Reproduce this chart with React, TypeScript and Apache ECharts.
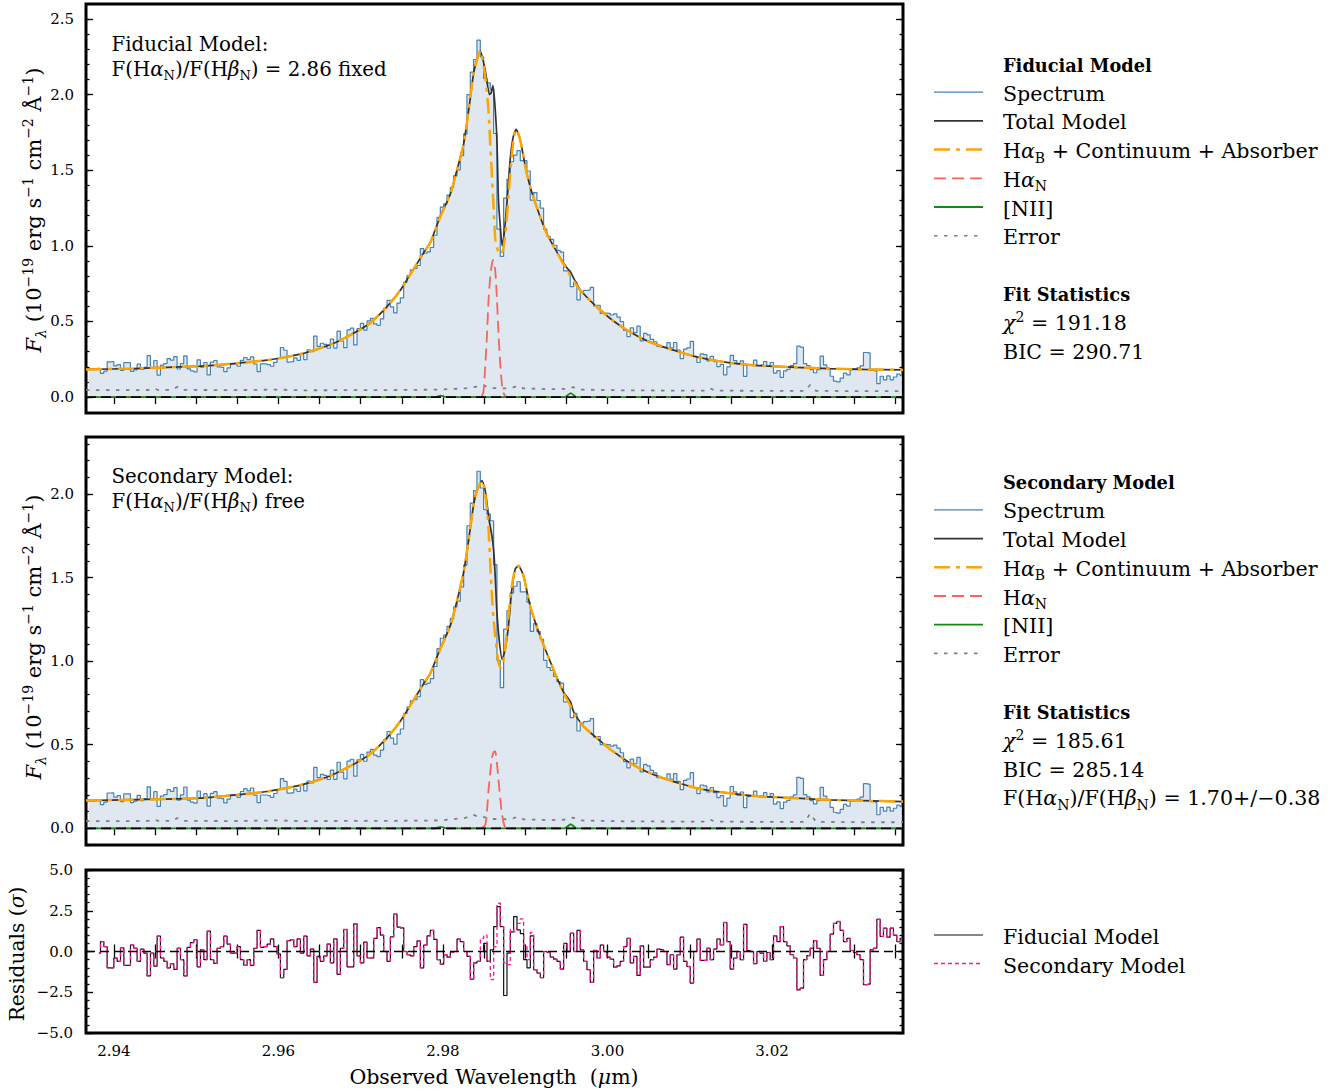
import React, { useEffect, useRef } from "react";
import * as echarts from "echarts";

const FONT = "DejaVu Serif";

// ---------- axes ----------
const X_MIN = 2.93661;
const X_MAX = 3.03592;
const X_TICKS = [2.94, 2.945, 2.95, 2.955, 2.96, 2.965, 2.97, 2.975, 2.98, 2.985, 2.99, 2.995, 3.0, 3.005, 3.01, 3.015, 3.02, 3.025, 3.03, 3.035];
const X_LABELS = [2.94, 2.96, 2.98, 3.0, 3.02];

const TOP_Y = [-0.105, 2.599];
const MID_Y = [-0.1, 2.341];
const RES_Y = [-5, 5];
const TOP_Y_MAJOR = [0, 0.5, 1.0, 1.5, 2.0, 2.5];
const MID_Y_MAJOR = [0, 0.5, 1.0, 1.5, 2.0];
const RES_Y_MAJOR = [-5, -2.5, 0, 2.5, 5];

// ---------- spectrum (bin centres: first padded bin at SPEC_FIRST, step BIN_STEP) ----------
const SPEC_FIRST = 2.93695;
const RES_FIRST = 2.93817;
const BIN_STEP = 0.000405;

const SPECTRUM_FID = [0.186, 0.183, 0.185,
  0.190, 0.157, 0.172, 0.233, 0.234, 0.206, 0.215, 0.177, 0.228, 0.228,
  0.170, 0.180, 0.218, 0.183, 0.196, 0.274, 0.197, 0.242, 0.145, 0.212,
  0.222, 0.255, 0.244, 0.268, 0.186, 0.221, 0.273, 0.187, 0.174, 0.167,
  0.246, 0.198, 0.229, 0.147, 0.231, 0.242, 0.200, 0.197, 0.168, 0.193,
  0.220, 0.222, 0.204, 0.243, 0.262, 0.248, 0.266, 0.219, 0.169, 0.220,
  0.220, 0.215, 0.204, 0.230, 0.256, 0.328, 0.310, 0.232, 0.234, 0.259,
  0.243, 0.290, 0.248, 0.313, 0.300, 0.403, 0.335, 0.356, 0.349, 0.323,
  0.384, 0.324, 0.436, 0.371, 0.327, 0.444, 0.456, 0.345, 0.453, 0.488,
  0.443, 0.504, 0.521, 0.484, 0.474, 0.517, 0.587, 0.640, 0.596, 0.557,
  0.622, 0.656, 0.759, 0.803, 0.842, 0.851, 0.870, 0.982, 0.951, 0.960,
  0.989, 1.070, 1.188, 1.256, 1.277, 1.335, 1.386, 1.463, 1.502, 1.596,
  1.740, 2.000, 2.149, 2.232, 2.360, 2.250, 2.107, 2.078, 2.033, 1.743,
  1.110, 0.930, 1.316, 1.440, 1.556, 1.600, 1.630, 1.563, 1.563, 1.495,
  1.302, 1.352, 1.300, 1.250, 1.110, 1.063, 1.043, 1.004, 0.970, 0.959,
  0.835, 0.835, 0.731, 0.760, 0.643, 0.695, 0.705, 0.708, 0.725, 0.602,
  0.607, 0.553, 0.555, 0.554, 0.543, 0.550, 0.529, 0.499, 0.441, 0.400,
  0.458, 0.426, 0.469, 0.372, 0.422, 0.412, 0.382, 0.366, 0.335, 0.330,
  0.329, 0.360, 0.325, 0.361, 0.311, 0.255, 0.317, 0.326, 0.368, 0.270,
  0.229, 0.286, 0.281, 0.240, 0.270, 0.235, 0.202, 0.216, 0.147, 0.200,
  0.276, 0.241, 0.219, 0.240, 0.137, 0.210, 0.212, 0.245, 0.209, 0.213,
  0.235, 0.209, 0.229, 0.159, 0.175, 0.130, 0.173, 0.184, 0.208, 0.221,
  0.337, 0.330, 0.222, 0.208, 0.182, 0.161, 0.182, 0.271, 0.213, 0.188,
  0.138, 0.106, 0.101, 0.125, 0.158, 0.147, 0.182, 0.187, 0.193, 0.207,
  0.295, 0.292, 0.177, 0.173, 0.089, 0.138, 0.114, 0.140, 0.114, 0.133,
  0.152, 0.142];

const SPECTRUM_SEC = [0.168, 0.166, 0.167,
  0.172, 0.142, 0.156, 0.211, 0.212, 0.186, 0.195, 0.160, 0.206, 0.206,
  0.154, 0.163, 0.197, 0.166, 0.177, 0.248, 0.178, 0.219, 0.131, 0.192,
  0.201, 0.231, 0.221, 0.243, 0.168, 0.200, 0.247, 0.169, 0.157, 0.151,
  0.223, 0.179, 0.207, 0.133, 0.209, 0.219, 0.181, 0.178, 0.152, 0.175,
  0.199, 0.201, 0.185, 0.220, 0.237, 0.224, 0.241, 0.198, 0.153, 0.199,
  0.199, 0.195, 0.185, 0.208, 0.232, 0.297, 0.281, 0.210, 0.212, 0.234,
  0.220, 0.262, 0.224, 0.283, 0.272, 0.365, 0.303, 0.322, 0.316, 0.292,
  0.348, 0.293, 0.395, 0.336, 0.296, 0.402, 0.413, 0.312, 0.410, 0.442,
  0.401, 0.456, 0.472, 0.438, 0.429, 0.468, 0.531, 0.579, 0.539, 0.504,
  0.563, 0.594, 0.687, 0.727, 0.762, 0.770, 0.787, 0.889, 0.861, 0.869,
  0.895, 0.968, 1.075, 1.137, 1.156, 1.208, 1.254, 1.324, 1.359, 1.444,
  1.575, 1.810, 1.945, 2.020, 2.136, 2.036, 1.907, 1.881, 1.840, 1.577,
  1.005, 0.842, 1.191, 1.303, 1.408, 1.448, 1.475, 1.415, 1.415, 1.353,
  1.178, 1.224, 1.177, 1.131, 1.005, 0.962, 0.944, 0.909, 0.878, 0.868,
  0.756, 0.756, 0.662, 0.688, 0.582, 0.629, 0.638, 0.641, 0.656, 0.545,
  0.549, 0.500, 0.502, 0.501, 0.491, 0.498, 0.479, 0.452, 0.399, 0.362,
  0.414, 0.386, 0.424, 0.337, 0.382, 0.373, 0.346, 0.331, 0.303, 0.299,
  0.298, 0.326, 0.294, 0.327, 0.281, 0.231, 0.287, 0.295, 0.333, 0.244,
  0.207, 0.259, 0.254, 0.217, 0.244, 0.213, 0.183, 0.195, 0.133, 0.181,
  0.250, 0.218, 0.198, 0.217, 0.124, 0.190, 0.192, 0.222, 0.189, 0.193,
  0.213, 0.189, 0.207, 0.144, 0.158, 0.118, 0.157, 0.167, 0.188, 0.200,
  0.305, 0.299, 0.201, 0.188, 0.165, 0.146, 0.165, 0.245, 0.193, 0.170,
  0.125, 0.096, 0.091, 0.113, 0.143, 0.133, 0.165, 0.169, 0.175, 0.187,
  0.267, 0.264, 0.160, 0.157, 0.081, 0.125, 0.103, 0.127, 0.103, 0.120,
  0.138, 0.129];

// ---------- residuals (sigma) ----------
const RESID_FID = [
  -0.1, 0.6, 0.3, -1.0, -1.0, -0.4, -0.6, 0.23, -0.85, -0.85,
  0.4, 0.2, -0.6, 0.15, -0.1, -1.5, -0.1, -0.9, 0.95, -0.4,
  -0.6, -1.0, -0.75, -1.1, 0.2, -0.5, -1.5, 0.25, 0.55, 0.72,
  -0.94, 0.1, -0.5, 1.25, -0.5, -0.73, 0.2, 0.3, 0.94, 0.45,
  -0.1, -0.1, 0.3, -0.5, -0.85, -0.5, -0.85, 0.2, 1.3, 0.25,
  0.3, 0.45, 0.77, 0.3, -0.15, -1.6, -1.1, 0.67, 0.72, 0.3,
  0.77, -0.1, 0.94, -0.27, 0.15, -1.9, -0.3, -0.6, -0.27, 0.45,
  -0.7, 0.77, -1.4, 0.2, 1.35, -0.94, -0.94, 1.7, -0.27, -0.7,
  0.57, -0.4, -0.4, 0.8, 1.47, 1.0, 0.0, -0.6, 0.9, 2.3,
  1.5, 1.45, 0.0, -0.2, -0.27, 0.3, 0.65, -1.0, 0.4, 0.96,
  1.29, 0.75, -0.5, -0.78, -0.2, -0.35, -0.05, 0.0, 0.76, 0.6,
  0.0, -0.3, -1.7, -0.7, -0.6, 0.0, 0.5, -0.6, 0.1, 1.53,
  2.75, 1.53, -2.7, -0.1, 1.2, 2.14, 1.33, 1.1, -0.5, -1.0,
  0.96, -1.12, -1.33, -1.6, 0.0, -0.06, -0.35, -0.47, -0.6, -1.08,
  0.5, 0.0, 1.12, 0.0, 1.29, 0.1, -0.6, -1.12, -1.9, 0.06,
  -0.4, 0.4, 0.0, -0.35, -0.47, -0.96, -0.88, -0.6, 0.3, 0.8,
  -0.7, -0.3, -1.47, 0.35, -0.96, -0.96, -0.5, -0.35, 0.14, 0.1,
  0.0, -0.8, -0.2, -1.08, -0.2, 0.88, -0.6, -0.92, -1.94, 0.0,
  0.76, -0.55, -0.55, 0.2, -0.5, 0.15, 0.76, 0.4, 1.78, 0.6,
  -1.08, -0.4, 0.0, -0.5, 1.67, 0.06, 0.0, -0.75, 0.0, -0.1,
  -0.6, -0.06, -0.5, 0.96, 0.6, 1.53, 0.6, 0.35, -0.2, -0.4,
  -2.35, -2.25, -0.5, -0.25, 0.2, 0.67, 0.2, -1.47, -0.5, 0.0,
  1.06, 1.73, 1.84, 1.29, 0.6, 0.8, 0.06, -0.06, -0.2, -0.5,
  -2.04, -2.0, 0.1, 0.2, 1.98, 0.92, 1.43, 0.88, 1.43, 1.0,
  0.6, 0.8];

const RESID_SEC = [
  -0.1, 0.6, 0.3, -1.0, -1.0, -0.4, -0.6, 0.23, -0.85, -0.85,
  0.4, 0.2, -0.6, 0.15, -0.1, -1.5, -0.1, -0.9, 0.95, -0.4,
  -0.6, -1.0, -0.75, -1.1, 0.2, -0.5, -1.5, 0.25, 0.55, 0.72,
  -0.94, 0.1, -0.5, 1.25, -0.5, -0.73, 0.2, 0.3, 0.94, 0.45,
  -0.1, -0.1, 0.3, -0.5, -0.85, -0.5, -0.85, 0.2, 1.3, 0.25,
  0.3, 0.45, 0.77, 0.3, -0.15, -1.6, -1.1, 0.67, 0.72, 0.3,
  0.77, -0.1, 0.94, -0.27, 0.15, -1.9, -0.3, -0.6, -0.27, 0.45,
  -0.7, 0.77, -1.4, 0.2, 1.35, -0.94, -0.94, 1.7, -0.27, -0.7,
  0.57, -0.4, -0.4, 0.8, 1.47, 1.0, 0.0, -0.6, 0.9, 2.3,
  1.5, 1.45, 0.0, -0.2, -0.27, 0.3, 0.65, -1.0, 0.4, 0.96,
  1.29, 0.75, -0.5, -0.78, -0.2, -0.35, -0.05, 0.0, 0.76, 0.6,
  0.0, -0.3, -1.7, -0.7, -0.6, 0.8, 1.0, -0.6, -1.73, 0.3,
  2.96, 1.53, -0.7, -0.8, 1.35, 1.2, 1.73, 2.0, 0.4, -0.5,
  1.16, -1.12, -1.33, -1.6, 0.0, -0.06, -0.35, -0.47, -0.6, -1.08,
  0.5, 0.0, 1.12, 0.0, 1.29, 0.1, -0.6, -1.12, -1.9, 0.06,
  -0.4, 0.4, 0.0, -0.35, -0.47, -0.96, -0.88, -0.6, 0.3, 0.8,
  -0.7, -0.3, -1.47, 0.35, -0.96, -0.96, -0.5, -0.35, 0.14, 0.1,
  0.0, -0.8, -0.2, -1.08, -0.2, 0.88, -0.6, -0.92, -1.94, 0.0,
  0.76, -0.55, -0.55, 0.2, -0.5, 0.15, 0.76, 0.4, 1.78, 0.6,
  -1.08, -0.4, 0.0, -0.5, 1.67, 0.06, 0.0, -0.75, 0.0, -0.1,
  -0.6, -0.06, -0.5, 0.96, 0.6, 1.53, 0.6, 0.35, -0.2, -0.4,
  -2.35, -2.25, -0.5, -0.25, 0.2, 0.67, 0.2, -1.47, -0.5, 0.0,
  1.06, 1.73, 1.84, 1.29, 0.6, 0.8, 0.06, -0.06, -0.2, -0.5,
  -2.04, -2.0, 0.1, 0.2, 1.98, 0.92, 1.43, 0.88, 1.43, 1.0,
  0.6, 0.8];

// ---------- fiducial model components [wavelength, flux] ----------
const FID_BROAD = [[2.93661, 0.183], [2.94237, 0.189], [2.95051, 0.205], [2.95452, 0.222], [2.95861, 0.244], [2.96059, 0.262], [2.96266, 0.284], [2.9646, 0.315], [2.96667, 0.354], [2.96873, 0.41], [2.97076, 0.475], [2.97177, 0.52], [2.97278, 0.574], [2.97371, 0.63], [2.97481, 0.706], [2.97578, 0.79], [2.97684, 0.882], [2.9776, 0.95], [2.97845, 1.02], [2.97967, 1.19], [2.98088, 1.34], [2.9817, 1.5], [2.9825, 1.67], [2.98311, 1.89], [2.98371, 2.135], [2.98413, 2.23], [2.98453, 2.29], [2.98514, 2.12], [2.98554, 1.89], [2.98574, 1.68], [2.98595, 1.47], [2.98615, 1.26], [2.98635, 1.05], [2.98656, 0.99], [2.98675, 0.96], [2.98696, 0.945], [2.98716, 0.95], [2.98736, 0.99], [2.98756, 1.07], [2.98777, 1.19], [2.98796, 1.32], [2.98817, 1.48], [2.98838, 1.6], [2.9886, 1.71], [2.9889, 1.77], [2.98939, 1.7], [2.9902, 1.475], [2.991, 1.32], [2.99263, 1.08], [2.99465, 0.88], [2.9951, 0.84], [2.99552, 0.8], [2.99595, 0.765], [2.99668, 0.706], [2.9987, 0.596], [3.00068, 0.505], [3.00275, 0.43], [3.00469, 0.375], [3.0068, 0.332], [3.00882, 0.297], [3.01085, 0.266], [3.01283, 0.244], [3.0149, 0.226], [3.01684, 0.215], [3.01895, 0.207], [3.023, 0.196], [3.02705, 0.188], [3.0311, 0.183], [3.03592, 0.18]];

const FID_TOTAL = [[2.93661, 0.183], [2.94237, 0.189], [2.95051, 0.205], [2.95452, 0.222], [2.95861, 0.244], [2.96059, 0.262], [2.96266, 0.284], [2.9646, 0.315], [2.96667, 0.354], [2.96873, 0.41], [2.97076, 0.475], [2.97177, 0.52], [2.97278, 0.574], [2.97371, 0.63], [2.97481, 0.706], [2.97578, 0.79], [2.97684, 0.882], [2.9776, 0.95], [2.97845, 1.02], [2.97967, 1.195], [2.98088, 1.34], [2.9817, 1.5], [2.9825, 1.67], [2.98311, 1.89], [2.98371, 2.135], [2.98413, 2.23], [2.98453, 2.29], [2.98514, 2.16], [2.98566, 2.0], [2.98585, 2.01], [2.98607, 2.06], [2.98629, 1.95], [2.98656, 1.7], [2.98675, 1.3], [2.98704, 1.08], [2.9872, 1.0], [2.98744, 1.08], [2.98777, 1.28], [2.98817, 1.57], [2.98854, 1.72], [2.9889, 1.77], [2.98939, 1.7], [2.9902, 1.475], [2.991, 1.32], [2.99263, 1.08], [2.99465, 0.885], [2.9951, 0.853], [2.99552, 0.826], [2.99595, 0.78], [2.99668, 0.71], [2.9987, 0.596], [3.00068, 0.505], [3.00275, 0.43], [3.00469, 0.375], [3.0068, 0.332], [3.00882, 0.297], [3.01085, 0.266], [3.01283, 0.244], [3.0149, 0.226], [3.01684, 0.215], [3.01895, 0.207], [3.023, 0.196], [3.02705, 0.188], [3.0311, 0.183], [3.03592, 0.18]];

const FID_NARROW = [[2.93661, 0], [2.98429, 0], [2.98469, 0.005], [2.98493, 0.04], [2.98514, 0.2], [2.98534, 0.4], [2.98554, 0.64], [2.98575, 0.8], [2.98595, 0.88], [2.98607, 0.907], [2.98635, 0.84], [2.98655, 0.66], [2.98675, 0.42], [2.98696, 0.22], [2.98716, 0.09], [2.98736, 0.03], [2.9876, 0.005], [2.9879, 0], [3.03592, 0]];

const FID_NII = [[2.93661, 0], [2.97906, 0], [2.97943, 0.006], [2.97973, 0.01], [2.98003, 0.006], [2.9804, 0], [2.99479, 0], [2.99516, 0.013], [2.99552, 0.026], [2.99589, 0.013], [2.99625, 0], [3.03592, 0]];

const FID_ERROR = [[2.93661, 0.046], [2.94079, 0.046], [2.94419, 0.047], [2.9448, 0.058], [2.94541, 0.047], [2.94711, 0.048], [2.94771, 0.068], [2.94832, 0.048], [2.95415, 0.046], [2.95986, 0.05], [2.96266, 0.045], [2.96873, 0.046], [2.97481, 0.047], [2.97967, 0.05], [2.98271, 0.058], [2.98429, 0.07], [2.98489, 0.08], [2.98574, 0.06], [2.98756, 0.058], [2.98854, 0.065], [2.98914, 0.076], [2.98975, 0.058], [2.99303, 0.052], [2.9951, 0.055], [2.99582, 0.066], [2.99655, 0.05], [3.00153, 0.045], [3.00882, 0.043], [3.01198, 0.043], [3.01247, 0.058], [3.01307, 0.043], [3.02097, 0.041], [3.02401, 0.041], [3.02462, 0.08], [3.02535, 0.042], [3.03069, 0.039], [3.03592, 0.039]];

// ---------- secondary model components ----------
const SEC_BROAD = [[2.93661, 0.166], [2.94237, 0.171], [2.95051, 0.18], [2.95452, 0.198], [2.95861, 0.22], [2.96059, 0.237], [2.96266, 0.258], [2.9646, 0.285], [2.96667, 0.322], [2.96873, 0.372], [2.97076, 0.43], [2.97177, 0.47], [2.97278, 0.52], [2.97371, 0.57], [2.97481, 0.64], [2.97578, 0.715], [2.97684, 0.8], [2.9776, 0.86], [2.97845, 0.925], [2.97967, 1.07], [2.98088, 1.21], [2.9817, 1.36], [2.9825, 1.53], [2.98311, 1.72], [2.98371, 1.93], [2.98413, 2.02], [2.98474, 2.08], [2.98514, 2.0], [2.98554, 1.79], [2.98574, 1.59], [2.98595, 1.39], [2.98614, 1.26], [2.98635, 1.15], [2.98656, 1.06], [2.98675, 0.99], [2.98704, 0.96], [2.98724, 0.98], [2.98744, 1.03], [2.98765, 1.11], [2.98784, 1.21], [2.98805, 1.31], [2.98826, 1.41], [2.98851, 1.49], [2.98878, 1.55], [2.98918, 1.57], [2.98979, 1.51], [2.9906, 1.33], [2.99181, 1.15], [2.99343, 0.95], [2.99465, 0.81], [2.9951, 0.77], [2.99552, 0.73], [2.99586, 0.69], [2.99708, 0.61], [2.9987, 0.54], [3.00068, 0.46], [3.00275, 0.39], [3.00469, 0.34], [3.0068, 0.3], [3.00882, 0.268], [3.01085, 0.24], [3.01283, 0.222], [3.0149, 0.21], [3.01684, 0.198], [3.01895, 0.19], [3.023, 0.18], [3.02705, 0.17], [3.0311, 0.165], [3.03592, 0.16]];

const SEC_TOTAL = [[2.93661, 0.166], [2.94237, 0.171], [2.95051, 0.18], [2.95452, 0.198], [2.95861, 0.22], [2.96059, 0.237], [2.96266, 0.258], [2.9646, 0.285], [2.96667, 0.322], [2.96873, 0.372], [2.97076, 0.43], [2.97177, 0.47], [2.97278, 0.52], [2.97371, 0.57], [2.97481, 0.64], [2.97578, 0.715], [2.97684, 0.8], [2.9776, 0.86], [2.97845, 0.925], [2.97967, 1.075], [2.98088, 1.21], [2.9817, 1.36], [2.9825, 1.53], [2.98311, 1.72], [2.98371, 1.93], [2.98413, 2.02], [2.98474, 2.08], [2.98514, 2.02], [2.98534, 1.95], [2.98562, 1.84], [2.98595, 1.75], [2.98617, 1.66], [2.98635, 1.51], [2.98656, 1.29], [2.98687, 1.11], [2.9872, 1.01], [2.98756, 1.07], [2.98796, 1.21], [2.98838, 1.43], [2.98878, 1.55], [2.98918, 1.57], [2.98979, 1.51], [2.9906, 1.33], [2.99181, 1.15], [2.99343, 0.95], [2.99465, 0.815], [2.9951, 0.785], [2.99552, 0.755], [2.99586, 0.7], [2.99708, 0.61], [2.9987, 0.54], [3.00068, 0.46], [3.00275, 0.39], [3.00469, 0.34], [3.0068, 0.3], [3.00882, 0.268], [3.01085, 0.24], [3.01283, 0.222], [3.0149, 0.21], [3.01684, 0.198], [3.01895, 0.19], [3.023, 0.18], [3.02705, 0.17], [3.0311, 0.165], [3.03592, 0.16]];

const SEC_NARROW = [[2.93661, 0], [2.98453, 0], [2.98514, 0.02], [2.98538, 0.12], [2.98554, 0.23], [2.98574, 0.33], [2.98595, 0.42], [2.98615, 0.455], [2.98635, 0.46], [2.98656, 0.39], [2.98675, 0.29], [2.98696, 0.18], [2.98716, 0.09], [2.98736, 0.035], [2.98756, 0.008], [2.9878, 0], [3.03592, 0]];

const SEC_NII = [[2.93661, 0], [2.97906, 0], [2.97943, 0.005], [2.97973, 0.009], [2.98003, 0.005], [2.9804, 0], [2.99479, 0], [2.99516, 0.012], [2.99552, 0.024], [2.99589, 0.012], [2.99625, 0], [3.03592, 0]];

const SEC_ERROR = [[2.93661, 0.043], [2.94079, 0.043], [2.94419, 0.044], [2.9448, 0.052], [2.94541, 0.044], [2.94711, 0.045], [2.94771, 0.062], [2.94832, 0.045], [2.95415, 0.043], [2.95986, 0.047], [2.96266, 0.043], [2.96873, 0.044], [2.97481, 0.045], [2.97967, 0.047], [2.98271, 0.062], [2.98371, 0.08], [2.98429, 0.07], [2.98489, 0.068], [2.98574, 0.056], [2.98756, 0.054], [2.98854, 0.06], [2.98914, 0.07], [2.98975, 0.054], [2.99303, 0.049], [2.9951, 0.052], [2.99582, 0.064], [2.99655, 0.047], [3.00153, 0.042], [3.00882, 0.04], [3.01198, 0.04], [3.01247, 0.052], [3.01307, 0.04], [3.02097, 0.038], [3.02401, 0.038], [3.02462, 0.088], [3.02535, 0.039], [3.03069, 0.036], [3.03592, 0.036]];

// ---------- legend / text content ----------
const LEGEND_FID_TITLE = "Fiducial Model";
const LEGEND_SEC_TITLE = "Secondary Model";
const LEGEND_LABELS = ["Spectrum", "Total Model", "H{it|α}{sub|B} + Continuum + Absorber", "H{it|α}{sub|N}", "[NII]", "Error"];
const FID_STATS = ["{it|χ}{sup|2} = 191.18", "BIC = 290.71"];
const SEC_STATS = ["{it|χ}{sup|2} = 185.61", "BIC = 285.14", "F(H{it|α}{sub|N})/F(H{it|β}{sub|N}) = 1.70+/−0.38"];
const RES_LEGEND = ["Fiducial Model", "Secondary Model"];

// ---------- colours ----------
const C_SPEC = "#4682b4";
const C_FILL = "#dfe7f0";
const C_TOTAL = "#333333";
const C_BROAD = "#ffa500";
const C_NARROW = "#f4675a";
const C_NII = "#138a13";
const C_ERR = "#808080";
const C_SECRES = "#ff1493";

const DASH_BROAD = [16, 6, 4, 6];
const DASH_NARROW = [12, 6];
const DASH_ERR = [3.5, 6.5];
const DASH_ZERO = [10, 5];
const DASH_SECRES = [4, 3];

const LEG_SIZE = 20.6;
const LEG_BOLD = 17.8;
const PANEL_SIZE = 19.8;

const GRIDS = [
  { left: 86, top: 4, width: 817, height: 409 },
  { left: 86, top: 437, width: 817, height: 408 },
  { left: 86, top: 870, width: 817, height: 163 },
];

function steps(a: number, b: number, s: number) {
  const out: number[] = [];
  for (let v = a; v <= b + 1e-9; v += s) out.push(Math.round(v * 1000) / 1000);
  return out;
}

function fmtY(v: number) {
  return (v < 0 ? "\u2212" : "") + Math.abs(v).toFixed(1);
}

const TICK_LINE = { color: "#000", width: 1.3 };

function xAxes(g: number, labels: boolean) {
  const base = (pos: string) => ({
    type: "value", gridIndex: g, position: pos, min: X_MIN, max: X_MAX,
    axisLine: { show: false }, splitLine: { show: false },
    axisTick: { show: true, inside: true, length: 7, customValues: X_TICKS, lineStyle: TICK_LINE },
    axisLabel: { show: false },
  });
  const bottom: any = base("bottom");
  if (labels) {
    bottom.axisLabel = {
      show: true, customValues: X_LABELS, formatter: (v: number) => v.toFixed(2),
      fontFamily: FONT, fontSize: 15, color: "#000", margin: 10,
    };
  }
  return [bottom, base("top")];
}

function yAxes(g: number, range: number[], majors: number[], minors: number[], labelMargin: number) {
  const mk = (pos: string, vals: number[], len: number, labels: boolean) => ({
    type: "value", gridIndex: g, position: pos, min: range[0], max: range[1],
    axisLine: { show: false }, splitLine: { show: false },
    axisTick: { show: true, inside: true, length: len, customValues: vals, lineStyle: TICK_LINE },
    axisLabel: labels
      ? { show: true, customValues: majors, formatter: fmtY, fontFamily: FONT, fontSize: 15, color: "#000", margin: labelMargin }
      : { show: false },
  });
  return [mk("left", majors, 7, true), mk("left", minors, 3.5, false), mk("right", majors, 7, false), mk("right", minors, 3.5, false)];
}

function line(g: number, data: any[], color: string, width: number, dash?: number[], extra: any = {}) {
  return {
    type: "line", xAxisIndex: 2 * g, yAxisIndex: 4 * g, data, symbol: "none", showSymbol: false,
    silent: true, animation: false, clip: true,
    lineStyle: { color, width, type: dash ? dash : "solid" },
    ...extra,
  };
}

function binned(values: number[], first: number) {
  return values.map((v, i) => [first + i * BIN_STEP, v]);
}

function rich(size: number) {
  const lh = Math.round(size * 1.3);
  const s = Math.round(size * 0.68);
  return {
    it: { fontFamily: FONT, fontSize: size, fontStyle: "italic", lineHeight: lh, fill: "#000" },
    sub: { fontFamily: FONT, fontSize: s, lineHeight: s + 1, verticalAlign: "bottom", fill: "#000" },
    subit: { fontFamily: FONT, fontSize: s, fontStyle: "italic", lineHeight: s + 1, verticalAlign: "bottom", fill: "#000" },
    sup: { fontFamily: FONT, fontSize: s, lineHeight: s + 1, verticalAlign: "top", fill: "#000" },
  };
}

function text(x: number, y: number, content: string, size: number, opts: any = {}) {
  const align = opts.align || "left";
  return {
    type: "text", x, y, rotation: opts.rotation || 0, silent: true, z: 100,
    style: {
      text: content, fill: "#000", fontFamily: FONT, fontSize: size,
      fontWeight: opts.bold ? "bold" : "normal",
      lineHeight: Math.round(size * 1.3),
      align, verticalAlign: "middle", textAlign: align, textVerticalAlign: "middle",
      rich: rich(size),
    },
  };
}

function handle(y: number, stroke: string, width: number, dash?: number[]) {
  return {
    type: "line", silent: true, z: 100,
    shape: { x1: 934, y1: y, x2: 983, y2: y },
    style: { stroke, lineWidth: width, lineDash: dash || null },
  };
}

function modelLegend(y0: number, title: string, stats: string[]) {
  const step = 28.7;
  const els: any[] = [text(1003, y0, title, LEG_BOLD, { bold: true })];
  const styles: [string, number, number[] | undefined][] = [
    [C_SPEC, 1.2, undefined], [C_TOTAL, 1.8, undefined], [C_BROAD, 2.5, DASH_BROAD],
    [C_NARROW, 1.8, DASH_NARROW], [C_NII, 1.8, undefined], [C_ERR, 1.6, DASH_ERR],
  ];
  LEGEND_LABELS.forEach((lab, i) => {
    const y = y0 + step * (i + 1);
    els.push(handle(y - 1.5, styles[i][0], styles[i][1], styles[i][2]));
    els.push(text(1003, y, lab, LEG_SIZE));
  });
  els.push(text(1003, y0 + step * 8, "Fit Statistics", LEG_BOLD, { bold: true }));
  stats.forEach((s, i) => els.push(text(1003, y0 + step * (9 + i), s, LEG_SIZE)));
  return els;
}

function buildOption() {
  const TOP_MINOR = steps(0, 2.5, 0.1);
  const MID_MINOR = steps(-0.1, 2.3, 0.1);
  const RES_MINOR = steps(-5, 5, 0.5);
  const zero = [[X_MIN, 0], [X_MAX, 0]];

  const panelSeries = (g: number, spec: number[], total: any[], broad: any[], narrow: any[], nii: any[], err: any[]) => [
    line(g, binned(spec, SPEC_FIRST), C_SPEC, 1.2, undefined, { step: "middle", areaStyle: { color: C_FILL, opacity: 1 } }),
    line(g, err, C_ERR, 1.8, DASH_ERR),
    line(g, total, C_TOTAL, 1.7, undefined, { smooth: 0.2 }),
    line(g, broad, C_BROAD, 2.5, DASH_BROAD, { smooth: 0.2 }),
    line(g, narrow, C_NARROW, 1.8, DASH_NARROW, { smooth: 0.2 }),
    line(g, nii, C_NII, 1.8, undefined, { smooth: 0.2 }),
    line(g, zero, "#000", 1.8, DASH_ZERO),
  ];

  const series = [
    ...panelSeries(0, SPECTRUM_FID, FID_TOTAL, FID_BROAD, FID_NARROW, FID_NII, FID_ERROR),
    ...panelSeries(1, SPECTRUM_SEC, SEC_TOTAL, SEC_BROAD, SEC_NARROW, SEC_NII, SEC_ERROR),
    line(2, binned(RESID_FID, RES_FIRST), "#111", 1.2, undefined, { step: "middle" }),
    line(2, binned(RESID_SEC, RES_FIRST), C_SECRES, 1.3, DASH_SECRES, { step: "middle" }),
    line(2, zero, "#000", 1.6, [9, 5]),
  ];

  const yTitle = "{it|F}{subit|λ} (10{sup|−19} erg s{sup|−1} cm{sup|−2} Å{sup|−1})";

  const graphics: any[] = [
    text(111.5, 44, "Fiducial Model:", PANEL_SIZE),
    text(111.5, 69, "F(H{it|α}{sub|N})/F(H{it|β}{sub|N}) = 2.86 fixed", PANEL_SIZE),
    text(111.5, 476, "Secondary Model:", PANEL_SIZE),
    text(111.5, 501, "F(H{it|α}{sub|N})/F(H{it|β}{sub|N}) free", PANEL_SIZE),
    text(34, 210, yTitle, 21, { align: "center", rotation: Math.PI / 2 }),
    text(34, 637, yTitle, 21, { align: "center", rotation: Math.PI / 2 }),
    text(17, 954, "Residuals ({it|σ})", 20.2, { align: "center", rotation: Math.PI / 2 }),
    text(494, 1077, "Observed Wavelength  ({it|μ}m)", 20.5, { align: "center" }),
    ...modelLegend(65, LEGEND_FID_TITLE, FID_STATS),
    ...modelLegend(482.7, LEGEND_SEC_TITLE, SEC_STATS),
    handle(935, "#111", 1.2),
    text(1003, 937.3, RES_LEGEND[0], LEG_SIZE),
    handle(963.5, C_SECRES, 1.6, DASH_SECRES),
    text(1003, 966, RES_LEGEND[1], LEG_SIZE),
  ];

  return {
    animation: false,
    backgroundColor: "#fff",
    grid: GRIDS.map((g) => ({ ...g, show: true, borderColor: "#000", borderWidth: 3, backgroundColor: "transparent" })),
    xAxis: [...xAxes(0, false), ...xAxes(1, false), ...xAxes(2, true)],
    yAxis: [
      ...yAxes(0, TOP_Y, TOP_Y_MAJOR, TOP_MINOR, 12),
      ...yAxes(1, MID_Y, MID_Y_MAJOR, MID_MINOR, 12),
      ...yAxes(2, RES_Y, RES_Y_MAJOR, RES_MINOR, 13),
    ],
    series,
    graphic: { elements: graphics },
  };
}

export default function App() {
  const ref = useRef<HTMLDivElement>(null);
  useEffect(() => {
    document.body.style.margin = "0";
    const chart = echarts.init(ref.current as HTMLDivElement, null, { renderer: "svg" });
    chart.setOption(buildOption() as any);
    return () => chart.dispose();
  }, []);
  return <div ref={ref} style={{ width: 1333, height: 1090 }} />;
}
